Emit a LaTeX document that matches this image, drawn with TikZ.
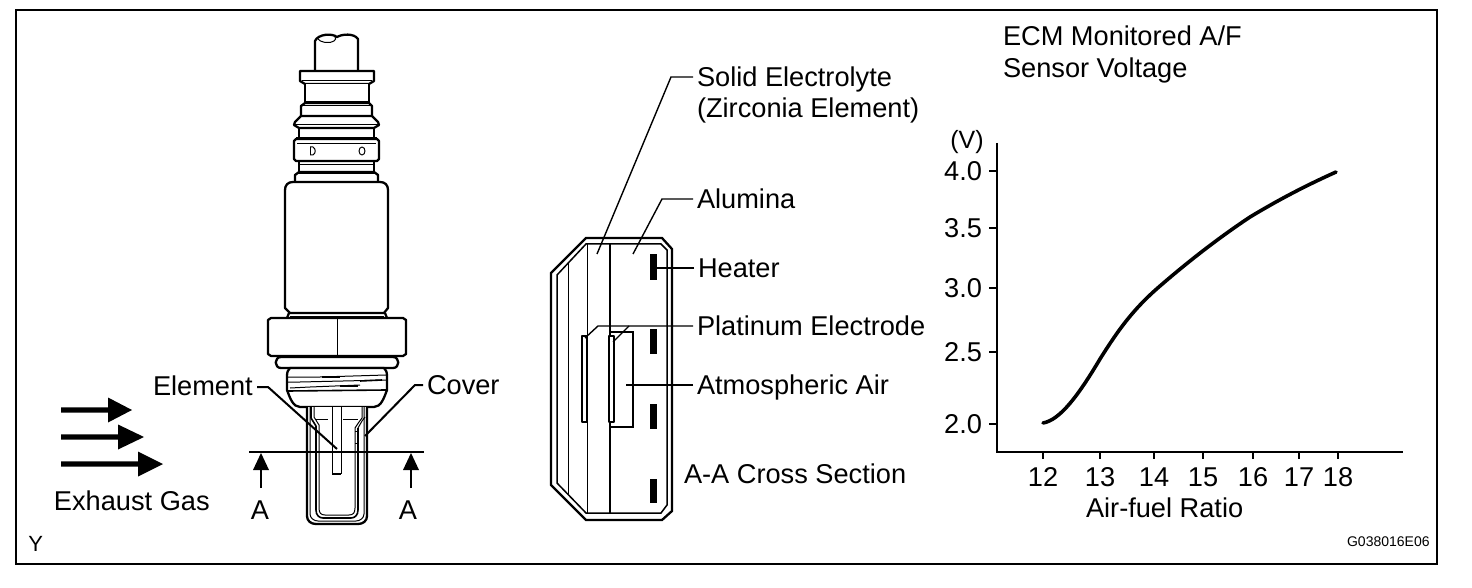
\documentclass[tikz,border=0pt]{standalone}
\usepackage{fontspec}
\setmainfont{Liberation Sans}
\usetikzlibrary{calc}
\tikzset{
  thk/.style={line width=1.15pt,line join=round},
  med/.style={line width=0.8pt,line join=round},
  thn/.style={line width=0.5pt,line join=round},
  lead/.style={line width=0.7pt},
  txt/.style={font=\fontsize{13.6}{15}\selectfont,anchor=west,inner xsep=2pt,inner ysep=0pt,outer sep=0pt,text height=9.8pt,text depth=0pt},
  num/.style={txt,inner xsep=0pt,anchor=center}
}
\begin{document}
\begin{tikzpicture}[x=0.5pt,y=-0.5pt]
\useasboundingbox (0,0) rectangle (1472,588);
\fill[white] (0,0) rectangle (1472,588);
% frame
\draw[line width=1.35pt] (16,10) rectangle (1437,564);

% ---- sensor
\draw[thk,fill=white] (315,71) -- (315,41) .. controls (318,34) and (332,33) .. (337,37) .. controls (342,34) and (354,33) .. (358,39) -- (358,71);
\draw[thn] (317,38) .. controls (320,43) and (330,44) .. (334,41) .. controls (336,40) and (336,38) .. (335,37);
\draw[thk,fill=white] (300,71) -- (374,71) -- (374,81) -- (369,84) -- (305,84) -- (300,81) -- cycle;
\draw[thn] (302,81) -- (372,81);
\draw[thk,fill=white] (305,84) -- (305,102) -- (369,102) -- (369,84);
\draw[thk,fill=white] (301,116) -- (301,106) -- (305,103) -- (369,103) -- (372,106) -- (372,116);
\draw[thn] (303,106) -- (371,106);
\draw[thk,fill=white] (301,116) -- (295,122) -- (294,125) -- (299,128) -- (374,128) -- (379,125) -- (378,122) -- (372,116) -- cycle;
\draw[thn] (295,125) -- (378,125);
\draw[thk] (299,128) -- (299,138);
\draw[thk] (374,128) -- (374,138);
\draw[thk,fill=white] (296,139) -- (377,139) -- (379,141) -- (379,159) -- (377,161) -- (296,161) -- (294,159) -- (294,141) -- cycle;
\draw[thn] (297,144) -- (376,144);
\draw[thn] (296,138) -- (377,138);
\draw[thn] (310,147) -- (313,147) .. controls (316,149) and (316,153) .. (313,155) -- (310,155);
\draw[thn] (310,147) -- (310,155);
\draw[thn] (362,151) ellipse (3 and 4);
\draw[thk] (299,161) -- (299,172);
\draw[thk] (374,161) -- (374,172);
\draw[thn] (300,165) -- (373,165);
\draw[thk,fill=white] (295,182) -- (295,175) -- (299,172) -- (374,172) -- (378,175) -- (378,182);
\draw[thn] (297,174) -- (376,174);
\draw[thk,fill=white] (293,182) -- (380,182) .. controls (385,182) and (388,185) .. (388,190) -- (388,308) -- (384,313) -- (290,313) -- (285,308) -- (285,190) .. controls (285,185) and (288,182) .. (293,182) -- cycle;
\draw[thn] (290,316) -- (384,316);
\draw[thk] (289,313) -- (287,318);
\draw[thk] (385,313) -- (387,318);
\draw[thk,fill=white] (268,320) -- (271,318) -- (403,318) -- (406,320) -- (406,354) -- (403,356) -- (271,356) -- (268,354) -- cycle;
\draw[thn] (337,318) -- (337,356);
\draw[thk,fill=white] (281,357) -- (393,357) .. controls (400,357) and (400,368) .. (393,368) -- (281,368) .. controls (274,368) and (274,357) .. (281,357) -- cycle;
% thread
\draw[thk,fill=white] (290,368) -- (384,368) .. controls (386,370) and (387,372) .. (387,376) -- (387,390) .. controls (384,398) and (381,407) .. (374,407) -- (300,407) .. controls (293,407) and (290,398) .. (287,390) -- (287,376) .. controls (287,372) and (288,370) .. (290,368) -- cycle;
\draw[thn] (288,377) -- (320,377) -- (386,375);
\draw[med] (322,377) -- (340,377);
\draw[thn] (288,382) -- (300,382) -- (386,380);
\draw[med] (360,381) -- (382,380);
\draw[thn] (290,388) -- (310,387) -- (360,385);
\draw[med] (340,386) -- (358,386);
\draw[med] (288,391) -- (386,390);
% cover
\draw[thk,fill=white] (307,407) -- (307,516) .. controls (307,521) and (311,524) .. (316,524) -- (358,524) .. controls (363,524) and (367,521) .. (367,516) -- (367,407);
\draw[thn] (310,407) -- (310,514) .. controls (310,518) and (314,521) .. (318,521) -- (356,521) .. controls (360,521) and (364,518) .. (364,514) -- (364,407);
\draw[med] (311,407) -- (311,418) -- (316,426) -- (316,510) .. controls (316,515) and (319,518) .. (323,518) -- (351,518) .. controls (355,518) and (358,515) .. (358,510) -- (358,428);
\draw[thn] (314,407) -- (314,417) -- (319,425) -- (319,508) .. controls (319,513) and (321,515) .. (325,515) -- (349,515) .. controls (353,515) and (355,513) .. (355,508) -- (355,428) -- (359,422) -- (362,418) -- (362,407);
\draw[thn] (358,428) -- (362,421) -- (365,417);
\draw[thn] (315,419) -- (328,419);
\draw[thn] (343,419) -- (358,419);
\draw[thn] (355,431) -- (358,431);
\draw[thn] (355,443) -- (358,443);
% element
\draw[thn] (332,407) -- (332,474);
\draw[thn] (341,407) -- (341,474);
\draw[thk] (332,474) -- (341,474);
% section line
\coordinate (secL) at (249,452);
\coordinate (secR) at (424,452);
\draw[line width=0.55pt] (secL) -- (secR);
% A arrows
\node[num] (aL) at (260,510) {A};
\node[num] (aR) at (408,510) {A};
\coordinate (aLtip) at (261,453);
\coordinate (aRtip) at (411,453);
\coordinate (aLtail) at (261,488);
\coordinate (aRtail) at (411,488);
\draw[line width=1pt] (aLtail) -- ($(aLtip)+(0,12)$);
\draw[line width=1pt] (aRtail) -- ($(aRtip)+(0,12)$);
\fill[black] (aLtip) -- ++(8,17) -- ++(-16,0) -- cycle;
\fill[black] (aRtip) -- ++(8,17) -- ++(-16,0) -- cycle;
% element/cover labels
\node[txt,inner xsep=0pt] (lElem) at (153,386) {Element};
\node[txt] (lCover) at (423,385) {Cover};
\coordinate (elemKnee) at (268,387);
\coordinate (elemStart) at (257,387);
\coordinate (elemTip) at (337,449);
\coordinate (coverKnee) at (415,385);
\coordinate (coverTip) at (365,436);
\draw[line width=1pt] (elemStart) -- (elemKnee) -- (elemTip);
\draw[line width=1pt] (lCover.west) -- (coverKnee) -- (coverTip);
% exhaust
\node[txt,inner xsep=0pt] (lGas) at (54,501) {Exhaust Gas};
\foreach \yy/\bb/\tp in {410/108/132,437/118/144,464/138/163}{
  \fill[black] (61,\yy-2.6) -- (\bb,\yy-2.6) -- (\bb,\yy-12.5) -- (\tp,\yy) -- (\bb,\yy+12.5) -- (\bb,\yy+2.6) -- (61,\yy+2.6) -- cycle;
}
\node[anchor=west,inner sep=0pt,font=\fontsize{11}{12}\selectfont,text height=7.9pt,text depth=0pt] (lY) at (28,544) {Y};

% ---- cross section
\draw[line width=1.15pt,line join=miter] (551,273) -- (586,238) -- (662,238) -- (672,249) -- (672,511) -- (662,520) -- (586,520) -- (551,485) -- cycle;
\draw[line width=0.75pt] (557,275) -- (586,244) -- (661,244) -- (667,250) -- (667,505) -- (661,513) -- (586,513) -- (557,483) -- cycle;
\draw[thn] (568,263) -- (568,495);
\draw[thn] (587,244) -- (587,513);
\draw[line width=0.85pt] (610,244) -- (610,513);
\draw[line width=0.55pt] (610,332) -- (633,332) -- (633,427) -- (610,427);
\draw[med,fill=white] (582,336) rectangle (587,422);
\draw[med,fill=white] (609,336) rectangle (614,422);
\foreach \yt/\yb in {254/280,329/354,404/429,479/503}{\fill[black] (650,\yt) rectangle (657,\yb);}
\node[txt] (lSolid) at (693,77) {Solid Electrolyte};
\node[txt] (lZirc) at (693,108) {(Zirconia Element)};
\node[txt] (lAlu) at (693,199) {Alumina};
\node[txt] (lHeat) at (694,268) {Heater};
\node[txt] (lPlat) at (693,326) {Platinum Electrode};
\node[txt] (lAir) at (693,385) {Atmospheric Air};
\node[txt] (lCross) at (680,474) {A-A Cross Section};
\coordinate (solidKnee) at (671,77);
\coordinate (solidTip) at (597,254);
\coordinate (aluKnee) at (662,199);
\coordinate (aluTip) at (633,254);
\coordinate (heatTip) at (657,268);
\coordinate (platKnee) at (598,326);
\coordinate (platTipA) at (585,338);
\coordinate (platTipB) at (613,342);
\coordinate (platMid) at (629,326);
\coordinate (airTip) at (626,385);
\draw[lead] (lSolid.west) -- (solidKnee) -- (solidTip);
\draw[lead] (lAlu.west) -- (aluKnee) -- (aluTip);
\draw[lead] (lHeat.west) -- (heatTip);
\draw[lead] (lPlat.west) -- (platKnee) -- (platTipA);
\draw[lead] (platMid) -- (platTipB);
\draw[lead] (lAir.west) -- (airTip);

% ---- graph
\node[txt,inner xsep=0pt] (t1) at (1003,36) {ECM Monitored A/F};
\node[txt,inner xsep=0pt] (t2) at (1003,68) {Sensor Voltage};
\coordinate (ax0) at (997,452);
\coordinate (axY) at (997,143);
\coordinate (axX) at (1403,452);
\draw[line width=0.6pt] (axY) -- (ax0) -- (axX);
\node[num,font=\fontsize{12.5}{14}\selectfont] (unit) at (967,139) {(V)};
\foreach \yy/\lab in {171/4.0,228/3.5,288/3.0,352/2.5,424/2.0}{
  \draw[line width=0.6pt] (989,\yy) -- (997,\yy);
  \node[txt,inner xsep=0pt,anchor=east] at (982,\yy) {\lab};
}
\foreach \xx/\lab in {1043/12,1100/13,1154/14,1203/15,1253/16,1299/17,1338/18}{
  \draw[line width=0.6pt] (\xx,452) -- (\xx,459);
  \node[num] at (\xx,477) {\lab};
}
\node[txt,inner xsep=0pt] (lAF) at (1086,508) {Air-fuel Ratio};
\node[font=\fontsize{7}{8}\selectfont,anchor=east,inner sep=0pt] (code) at (1430,542) {G038016E06};
\draw[line width=1.8pt,line cap=round,line join=round] (1043,423) .. controls (1060,420) and (1078,396) .. (1100,359) .. controls (1117,332) and (1132,310) .. (1160,286) .. controls (1190,260) and (1220,237) .. (1250,217) .. controls (1280,199) and (1305,186) .. (1336,172);
\end{tikzpicture}
\end{document}
